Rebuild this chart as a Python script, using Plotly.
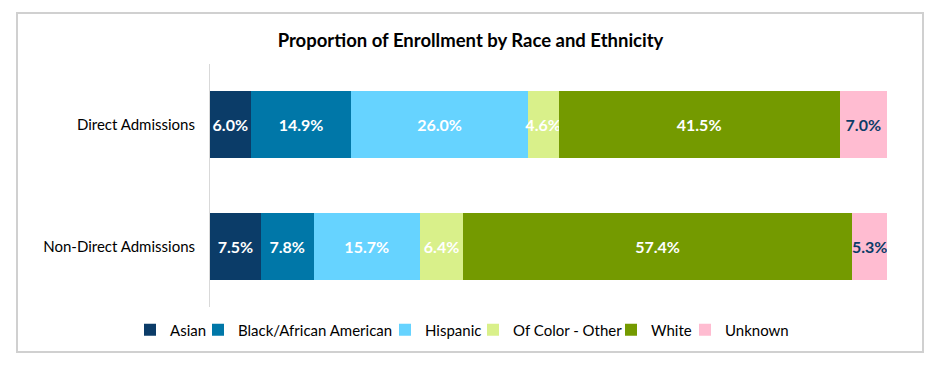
import plotly.graph_objects as go

groups = ["Direct Admissions", "Non-Direct Admissions"]
series_names = ["Asian", "Black/African American", "Hispanic", "Of Color - Other", "White", "Unknown"]
asian = [6.0, 7.5]
black = [14.9, 7.8]
hispanic = [26.0, 15.7]
of_color_other = [4.6, 6.4]
white = [41.5, 57.4]
unknown = [7.0, 5.3]
series_values = [asian, black, hispanic, of_color_other, white, unknown]

colors = ["#0b3c68", "#0077a8", "#66d3ff", "#d9f08a", "#749a00", "#ffbcd1"]
text_colors = ["#ffffff", "#ffffff", "#ffffff", "#ffffff", "#ffffff", "#0b3c68"]
legend_widths = [23, 142, 43, 93, 29, 62]

FONT = "Lato, 'Open Sans', sans-serif"

fig = go.Figure()
for name, vals, c, tc, lw in zip(series_names, series_values, colors, text_colors, legend_widths):
    fig.add_trace(go.Bar(
        y=groups, x=vals, name=name, orientation="h",
        marker=dict(color=c, line=dict(width=0)),
        text=[f"{v:.1f}%" for v in vals],
        textposition="inside", insidetextanchor="middle",
        constraintext="none", textangle=0,
        textfont=dict(family=FONT, size=16, color=tc, weight="bold"),
        legendwidth=lw,
        hoverinfo="skip",
    ))

W, H = 941, 368
ml, mr, mt, mb = 210, 54, 64, 61
pw, ph = W - ml - mr, H - mt - mb

def px_x(x):
    return (x - ml) / pw

def px_y(y):
    return (H - mb - y) / ph

fig.update_layout(
    width=W, height=H,
    margin=dict(l=ml, r=mr, t=mt, b=mb),
    barmode="stack", bargap=0.45,
    paper_bgcolor="white", plot_bgcolor="white",
    font=dict(family=FONT, size=15, color="#000000"),
    title=dict(text="<b>Proportion of Enrollment by Race and Ethnicity</b>",
               x=0.5, xref="container", xanchor="center",
               y=1 - 41 / H, yref="container", yanchor="middle",
               font=dict(family=FONT, size=18.5, color="#000000")),
    xaxis=dict(range=[0, 100], visible=False, fixedrange=True),
    yaxis=dict(autorange="reversed", showline=True, linecolor="#d9d9d9", linewidth=1,
               ticks="", showgrid=False, ticklabelstandoff=11, fixedrange=True,
               tickfont=dict(family=FONT, size=15, color="#000000")),
    legend=dict(orientation="h", xref="paper", x=px_x(130), xanchor="left",
                yref="paper", y=px_y(330), yanchor="middle",
                font=dict(family=FONT, size=15, color="#000000"),
                bgcolor="rgba(0,0,0,0)",
                traceorder="normal", itemwidth=30),
    showlegend=True,
    shapes=[dict(type="rect", xref="paper", yref="paper",
                 x0=px_x(17), x1=px_x(923), y0=px_y(352), y1=px_y(13),
                 line=dict(color="#d0d0d0", width=2), fillcolor="rgba(0,0,0,0)",
                 layer="below")],
)

fig.write_html("out.html", config={"displayModeBar": False},
               post_script="document.body.style.margin='0';document.body.style.overflow='hidden';")
